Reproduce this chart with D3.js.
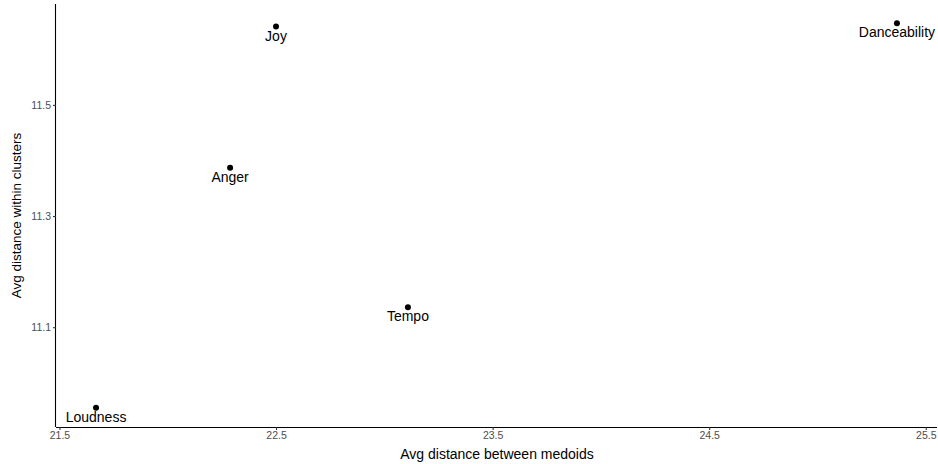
<!DOCTYPE html>
<html>
<head>
<meta charset="utf-8">
<script src="https://cdn.jsdelivr.net/npm/d3@7"></script>
<style>
body{margin:0;background:#fff;}
svg{display:block;font-family:"Liberation Sans",Arial,sans-serif;}
</style>
</head>
<body>
<svg id="chart" width="938" height="464"></svg>
<script>
const labels = ["Loudness","Anger","Joy","Tempo","Danceability"];
const xValues = [21.669, 22.288, 22.500, 23.109, 25.367];
const yValues = [10.955, 11.387, 11.641, 11.136, 11.647];
const xTicks = [21.5, 22.5, 23.5, 24.5, 25.5];
const yTicks = [11.1, 11.3, 11.5];

(function(){
const data = labels.map((l,i)=>({label:l,x:xValues[i],y:yValues[i]}));
const svg = d3.select("#chart");
const pLeft=56, pRight=937, pTop=4, pBottom=427;

function expand(ext){const r=ext[1]-ext[0];return [ext[0]-r*0.05, ext[1]+r*0.05];}
const x = d3.scaleLinear().domain(expand(d3.extent(xValues))).range([pLeft,pRight]);
const y = d3.scaleLinear().domain(expand(d3.extent(yValues))).range([pBottom,pTop]);

const xAxis = svg.append("g").attr("transform",`translate(0,${pBottom})`)
  .call(d3.axisBottom(x).tickValues(xTicks).tickFormat(d3.format(".1f")).tickSize(3).tickPadding(2));
const yAxis = svg.append("g").attr("transform",`translate(${pLeft},0)`)
  .call(d3.axisLeft(y).tickValues(yTicks).tickFormat(d3.format(".1f")).tickSize(3).tickPadding(2));
[xAxis,yAxis].forEach(a=>{
  a.select(".domain").attr("stroke","#000").attr("stroke-width",1.1);
  a.selectAll(".tick line").attr("stroke","#333").attr("stroke-width",1.1);
  a.selectAll(".tick text").attr("fill","#4d4d4d").style("font-size","10.5px").style("font-family","Liberation Sans, Arial, sans-serif");
});
xAxis.select(".domain").attr("d",`M${pLeft},0.5H${pRight}`);
yAxis.select(".domain").attr("d",`M-0.5,${pTop}V${pBottom}`);

svg.append("g").selectAll("circle").data(data).join("circle")
  .attr("cx",d=>x(d.x)).attr("cy",d=>y(d.y)).attr("r",3).attr("fill","#000");
svg.append("g").selectAll("text").data(data).join("text")
  .attr("x",d=>x(d.x)).attr("y",d=>y(d.y)+14)
  .attr("text-anchor","middle").style("font-size","14px").attr("fill","#000")
  .text(d=>d.label);

svg.append("text").attr("x",497).attr("y",459).attr("text-anchor","middle")
  .style("font-size","14px").text("Avg distance between medoids");
svg.append("text").attr("transform",`translate(21,${(pTop+pBottom)/2}) rotate(-90)`).attr("text-anchor","middle")
  .style("font-size","13.5px").text("Avg distance within clusters");
})();
</script>
</body>
</html>
